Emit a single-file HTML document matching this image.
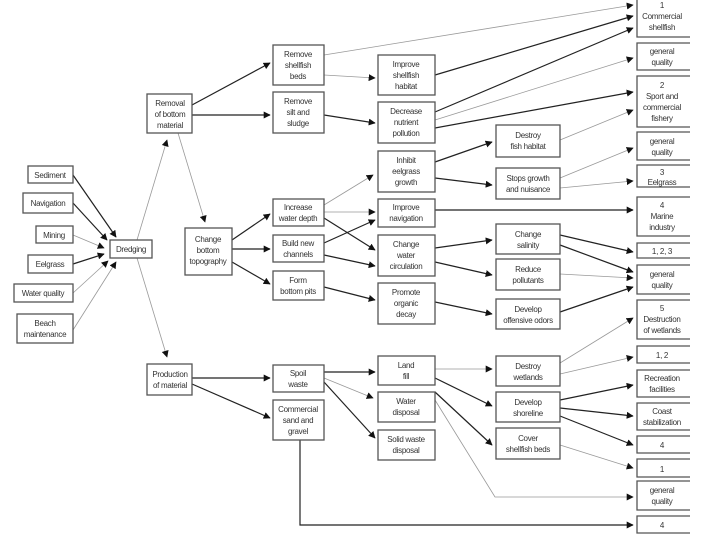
<!DOCTYPE html>
<html><head><meta charset="utf-8"><style>
html,body{margin:0;padding:0;background:#fff;width:720px;height:540px;overflow:hidden}
svg{display:block}
text{font-family:"Liberation Sans",sans-serif;font-size:8px;fill:#333;text-anchor:middle;letter-spacing:-0.3px}
rect{fill:#fff;stroke:#555;stroke-width:1.3}
.l{stroke:#222;stroke-width:1.2;fill:none;marker-end:url(#a)}
.g{stroke:#999;stroke-width:0.8;fill:none;marker-end:url(#a)}
.rb{fill:#fff;stroke:#555;stroke-width:1.3}
</style></head><body>
<svg width="720" height="540" viewBox="0 0 720 540">
<defs><marker id="a" viewBox="0 0 10 10" refX="9" refY="5" markerWidth="7" markerHeight="7" markerUnits="userSpaceOnUse" orient="auto"><path d="M0,0 L10,5 L0,10z" fill="#111"/></marker></defs>

<!-- connectors -->
<g>
<line class="l" x1="73" y1="175" x2="116" y2="237"/>
<line class="l" x1="73" y1="203" x2="107" y2="240"/>
<line class="g" x1="73" y1="235" x2="104" y2="248"/>
<line class="l" x1="73" y1="264" x2="104" y2="254"/>
<line class="g" x1="73" y1="293" x2="108" y2="261"/>
<line class="g" x1="73" y1="330" x2="116" y2="262"/>
<line class="g" x1="137" y1="240" x2="167" y2="140"/>
<line class="g" x1="178" y1="133" x2="205" y2="222"/>
<line class="g" x1="137" y1="258" x2="167" y2="357"/>
<line class="l" x1="192" y1="105" x2="270" y2="63"/>
<line class="l" x1="192" y1="115" x2="270" y2="115"/>
<line class="l" x1="232" y1="240" x2="270" y2="214"/>
<line class="l" x1="232" y1="249" x2="270" y2="249"/>
<line class="l" x1="232" y1="262" x2="270" y2="284"/>
<line class="l" x1="192" y1="378" x2="270" y2="378"/>
<line class="l" x1="192" y1="384" x2="270" y2="418"/>
<line class="g" x1="324" y1="55" x2="633" y2="5"/>
<line class="g" x1="324" y1="75" x2="375" y2="78"/>
<line class="l" x1="324" y1="115" x2="375" y2="123"/>
<line class="g" x1="324" y1="205" x2="373" y2="175"/>
<line class="g" x1="324" y1="212" x2="375" y2="212"/>
<line class="l" x1="324" y1="218" x2="375" y2="250"/>
<line class="l" x1="324" y1="243" x2="375" y2="220"/>
<line class="l" x1="324" y1="255" x2="375" y2="266"/>
<line class="l" x1="324" y1="287" x2="375" y2="300"/>
<line class="l" x1="324" y1="372" x2="375" y2="372"/>
<line class="g" x1="324" y1="378" x2="373" y2="398"/>
<line class="l" x1="324" y1="382" x2="375" y2="438"/>
<polyline class="l" points="300,440 300,525 633,525"/>
<line class="l" x1="435" y1="75" x2="633" y2="16"/>
<line class="l" x1="435" y1="112" x2="633" y2="28"/>
<line class="g" x1="435" y1="120" x2="633" y2="58"/>
<line class="l" x1="435" y1="128" x2="633" y2="92"/>
<line class="l" x1="435" y1="162" x2="492" y2="142"/>
<line class="l" x1="435" y1="178" x2="492" y2="185"/>
<line class="g" x1="560" y1="140" x2="633" y2="110"/>
<line class="g" x1="560" y1="178" x2="633" y2="148"/>
<line class="g" x1="560" y1="188" x2="633" y2="181"/>
<line class="l" x1="435" y1="210" x2="633" y2="210"/>
<line class="l" x1="435" y1="248" x2="492" y2="240"/>
<line class="l" x1="435" y1="262" x2="492" y2="275"/>
<line class="l" x1="560" y1="235" x2="633" y2="252"/>
<line class="l" x1="560" y1="245" x2="633" y2="272"/>
<line class="g" x1="560" y1="274" x2="633" y2="278"/>
<line class="l" x1="560" y1="312" x2="633" y2="287"/>
<line class="l" x1="435" y1="302" x2="492" y2="314"/>
<line class="g" x1="435" y1="369" x2="492" y2="369"/>
<line class="l" x1="435" y1="378" x2="492" y2="406"/>
<line class="l" x1="435" y1="392" x2="492" y2="445"/>
<polyline class="g" points="435,400 495,497 633,497"/>
<line class="g" x1="560" y1="363" x2="633" y2="318"/>
<line class="g" x1="560" y1="374" x2="633" y2="357"/>
<line class="l" x1="560" y1="400" x2="633" y2="385"/>
<line class="l" x1="560" y1="408" x2="633" y2="416"/>
<line class="l" x1="560" y1="416" x2="633" y2="445"/>
<line class="g" x1="560" y1="445" x2="633" y2="468"/>
</g>

<!-- left inputs -->
<rect x="28" y="166" width="45" height="17"/><text x="50" y="178">Sediment</text>
<rect x="23" y="193" width="50" height="20"/><text x="48" y="206">Navigation</text>
<rect x="36" y="226" width="37" height="17"/><text x="54" y="238">Mining</text>
<rect x="28" y="255" width="45" height="18"/><text x="50" y="267">Eelgrass</text>
<rect x="14" y="284" width="59" height="18"/><text x="43" y="296">Water quality</text>
<rect x="17" y="314" width="56" height="29"/><text x="45" y="326">Beach</text><text x="45" y="337">maintenance</text>
<rect x="110" y="240" width="42" height="18"/><text x="131" y="252">Dredging</text>

<rect x="147" y="94" width="45" height="39"/><text x="170" y="106">Removal</text><text x="170" y="117">of bottom</text><text x="170" y="128">material</text>
<rect x="185" y="228" width="47" height="47"/><text x="208" y="242">Change</text><text x="208" y="253">bottom</text><text x="208" y="264">topography</text>
<rect x="147" y="364" width="45" height="31"/><text x="170" y="377">Production</text><text x="170" y="388">of material</text>

<!-- col3 -->
<rect x="273" y="45" width="51" height="40"/><text x="298" y="57">Remove</text><text x="298" y="68">shellfish</text><text x="298" y="79">beds</text>
<rect x="273" y="92" width="51" height="41"/><text x="298" y="104">Remove</text><text x="298" y="115">silt and</text><text x="298" y="126">sludge</text>
<rect x="273" y="199" width="51" height="27"/><text x="298" y="210">Increase</text><text x="298" y="221">water depth</text>
<rect x="273" y="235" width="51" height="27"/><text x="298" y="246">Build new</text><text x="298" y="257">channels</text>
<rect x="273" y="271" width="51" height="29"/><text x="298" y="283">Form</text><text x="298" y="294">bottom pits</text>
<rect x="273" y="365" width="51" height="27"/><text x="298" y="376">Spoil</text><text x="298" y="387">waste</text>
<rect x="273" y="400" width="51" height="40"/><text x="298" y="412">Commercial</text><text x="298" y="423">sand and</text><text x="298" y="434">gravel</text>

<!-- col4 -->
<rect x="378" y="55" width="57" height="40"/><text x="406" y="67">Improve</text><text x="406" y="78">shellfish</text><text x="406" y="89">habitat</text>
<rect x="378" y="102" width="57" height="41"/><text x="406" y="114">Decrease</text><text x="406" y="125">nutrient</text><text x="406" y="136">pollution</text>
<rect x="378" y="151" width="57" height="41"/><text x="406" y="163">Inhibit</text><text x="406" y="174">eelgrass</text><text x="406" y="185">growth</text>
<rect x="378" y="199" width="57" height="28"/><text x="406" y="210">Improve</text><text x="406" y="221">navigation</text>
<rect x="378" y="235" width="57" height="41"/><text x="406" y="247">Change</text><text x="406" y="258">water</text><text x="406" y="269">circulation</text>
<rect x="378" y="283" width="57" height="41"/><text x="406" y="295">Promote</text><text x="406" y="306">organic</text><text x="406" y="317">decay</text>
<rect x="378" y="356" width="57" height="29"/><text x="406" y="368">Land</text><text x="406" y="379">fill</text>
<rect x="378" y="392" width="57" height="30"/><text x="406" y="404">Water</text><text x="406" y="415">disposal</text>
<rect x="378" y="430" width="57" height="30"/><text x="406" y="442">Solid waste</text><text x="406" y="453">disposal</text>

<!-- col5 -->
<rect x="496" y="125" width="64" height="32"/><text x="528" y="138">Destroy</text><text x="528" y="149">fish habitat</text>
<rect x="496" y="168" width="64" height="31"/><text x="528" y="181">Stops growth</text><text x="528" y="192">and nuisance</text>
<rect x="496" y="224" width="64" height="30"/><text x="528" y="237">Change</text><text x="528" y="248">salinity</text>
<rect x="496" y="259" width="64" height="31"/><text x="528" y="272">Reduce</text><text x="528" y="283">pollutants</text>
<rect x="496" y="299" width="64" height="30"/><text x="528" y="312">Develop</text><text x="528" y="323">offensive odors</text>
<rect x="496" y="356" width="64" height="30"/><text x="528" y="369">Destroy</text><text x="528" y="380">wetlands</text>
<rect x="496" y="392" width="64" height="30"/><text x="528" y="405">Develop</text><text x="528" y="416">shoreline</text>
<rect x="496" y="428" width="64" height="31"/><text x="528" y="441">Cover</text><text x="528" y="452">shellfish beds</text>

<!-- right column (open right side) -->
<g class="rb">
<path d="M690,-1 H637 V37 H690"/>
<path d="M690,43 H637 V70 H690"/>
<path d="M690,76 H637 V127 H690"/>
<path d="M690,132 H637 V160 H690"/>
<path d="M690,165 H637 V187 H690"/>
<path d="M690,197 H637 V236 H690"/>
<path d="M690,243 H637 V258 H690"/>
<path d="M690,265 H637 V294 H690"/>
<path d="M690,300 H637 V339 H690"/>
<path d="M690,346 H637 V363 H690"/>
<path d="M690,370 H637 V397 H690"/>
<path d="M690,403 H637 V430 H690"/>
<path d="M690,436 H637 V453 H690"/>
<path d="M690,459 H637 V477 H690"/>
<path d="M690,481 H637 V510 H690"/>
<path d="M690,516 H637 V533 H690"/>
</g>
<text x="662" y="8">1</text><text x="662" y="19">Commercial</text><text x="662" y="30">shellfish</text>
<text x="662" y="54">general</text><text x="662" y="65">quality</text>
<text x="662" y="88">2</text><text x="662" y="99">Sport and</text><text x="662" y="110">commercial</text><text x="662" y="121">fishery</text>
<text x="662" y="144">general</text><text x="662" y="155">quality</text>
<text x="662" y="175">3</text><text x="662" y="185">Eelgrass</text>
<text x="662" y="208">4</text><text x="662" y="219">Marine</text><text x="662" y="230">industry</text>
<text x="662" y="254">1, 2, 3</text>
<text x="662" y="277">general</text><text x="662" y="288">quality</text>
<text x="662" y="311">5</text><text x="662" y="322">Destruction</text><text x="662" y="333">of wetlands</text>
<text x="662" y="358">1, 2</text>
<text x="662" y="381">Recreation</text><text x="662" y="392">facilities</text>
<text x="662" y="414">Coast</text><text x="662" y="425">stabilization</text>
<text x="662" y="448">4</text>
<text x="662" y="472">1</text>
<text x="662" y="493">general</text><text x="662" y="504">quality</text>
<text x="662" y="528">4</text>
</svg>
</body></html>
